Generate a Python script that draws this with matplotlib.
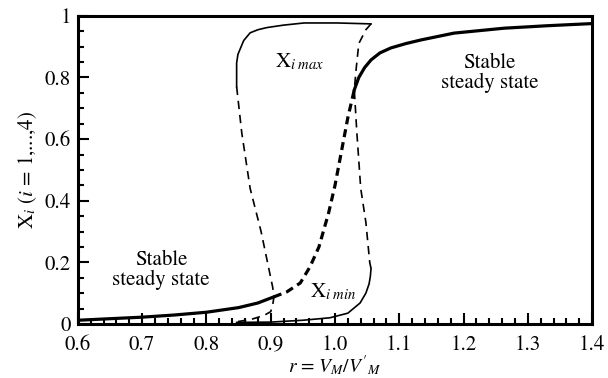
import matplotlib
matplotlib.use('Agg')
import matplotlib.pyplot as plt
import numpy as np

plt.rcParams['font.family'] = ['STIXGeneral', 'Liberation Serif', 'DejaVu Serif']
plt.rcParams['mathtext.fontset'] = 'stix'

# stable steady state, lower branch (thick solid)
r_low = [0.6, 0.65, 0.7, 0.75, 0.8, 0.85, 0.88, 0.905]
x_low = [0.012, 0.017, 0.022, 0.029, 0.038, 0.053, 0.068, 0.088]

# unstable steady state (thick dashed)
r_mid = [0.905, 0.925, 0.946, 0.961, 0.975, 0.99, 1.0, 1.01, 1.02, 1.03]
x_mid = [0.088, 0.104, 0.133, 0.185, 0.25, 0.36, 0.45, 0.56, 0.67, 0.76]

# stable steady state, upper branch (thick solid)
r_up = [1.03, 1.037, 1.046, 1.056, 1.07, 1.087, 1.11, 1.134, 1.185, 1.263, 1.33, 1.4]
x_up = [0.76, 0.80, 0.832, 0.857, 0.88, 0.896, 0.91, 0.922, 0.944, 0.96, 0.968, 0.975]

# stable limit cycle, max (thin solid)
r_cmax = [0.847, 0.847, 0.849, 0.852, 0.858, 0.868, 0.88, 0.894, 0.92, 0.952, 1.003, 1.056]
x_cmax = [0.77, 0.847, 0.875, 0.89, 0.92, 0.945, 0.955, 0.962, 0.97, 0.977, 0.977, 0.974]

# stable limit cycle, min (thin solid)
r_cmin = [0.847, 0.9, 0.95, 0.992, 1.02, 1.039, 1.048, 1.053, 1.055, 1.056]
x_cmin = [0.005, 0.006, 0.012, 0.02, 0.035, 0.068, 0.1, 0.13, 0.155, 0.18]

# unstable limit cycle, right (thin dashed)
r_ur = [1.056, 1.048, 1.037, 1.033, 1.03, 1.034, 1.04, 1.048, 1.054, 1.056]
x_ur = [0.974, 0.955, 0.91, 0.83, 0.76, 0.62, 0.44, 0.33, 0.2, 0.18]

# unstable limit cycle, left (thin dashed)
r_ul = [0.847, 0.855, 0.868, 0.885, 0.897, 0.903, 0.905, 0.903, 0.9, 0.89, 0.87, 0.847]
x_ul = [0.77, 0.62, 0.44, 0.3, 0.18, 0.12, 0.088, 0.06, 0.04, 0.028, 0.015, 0.007]

xticks = [0.6, 0.7, 0.8, 0.9, 1.0, 1.1, 1.2, 1.3, 1.4]
xticklabels = ['0.6', '0.7', '0.8', '0.9', '1.0', '1.1', '1.2', '1.3', '1.4']
yticks = [0, 0.2, 0.4, 0.6, 0.8, 1.0]
yticklabels = ['0', '0.2', '0.4', '0.6', '0.8', '1']

fig = plt.figure(figsize=(6.08, 3.78), dpi=100)
ax = fig.add_axes([0.128, 0.143, 0.846, 0.815])

thick = 2.3
thin = 1.2
ax.plot(r_low, x_low, 'k-', lw=thick)
ax.plot(r_mid, x_mid, 'k', lw=thick, ls=(0, (2.5, 1.6)))
ax.plot(r_up, x_up, 'k-', lw=thick)
ax.plot(r_cmax, x_cmax, 'k-', lw=thin)
ax.plot(r_cmin, x_cmin, 'k-', lw=thin)
ax.plot(r_ur, x_ur, 'k', lw=thin, ls=(0, (5, 3.5)))
ax.plot(r_ul, x_ul, 'k', lw=thin, ls=(0, (5, 3.5)))

ax.text(0.945, 0.85, r'X$_{i\ max}$', fontsize=15, ha='center', va='center')
ax.text(0.998, 0.105, r'X$_{i\ min}$', fontsize=15, ha='center', va='center')
ax.text(1.24, 0.815, 'Stable\nsteady state', fontsize=15, ha='center', va='center',
        linespacing=1.0)
ax.text(0.729, 0.175, 'Stable\nsteady state', fontsize=15, ha='center', va='center',
        linespacing=1.0)

ax.set_xlim(0.6, 1.4)
ax.set_ylim(0, 1)
ax.set_xticks(xticks)
ax.set_xticklabels(xticklabels)
ax.set_yticks(yticks)
ax.set_yticklabels(yticklabels)
ax.set_xticks(np.arange(0.6, 1.401, 0.02), minor=True)
ax.set_yticks(np.arange(0, 1.001, 0.05), minor=True)
ax.tick_params(which='both', direction='in', top=False, right=False, width=1.5,
               labelsize=15)
ax.tick_params(which='major', length=8)
ax.tick_params(which='minor', length=4)
ax.tick_params(axis='x', which='major', pad=8)
ax.tick_params(axis='y', which='major', pad=5)
for s in ax.spines.values():
    s.set_linewidth(2.2)

ax.set_xlabel(r"$r$ = $V_M$/$V'_M$", fontsize=14, va='center')
ax.xaxis.set_label_coords(0.5, -0.135)
ax.set_ylabel(r'X$_i$ ($i$ = 1,...,4)', fontsize=15, labelpad=4)

fig.savefig('out.png', dpi=100)
